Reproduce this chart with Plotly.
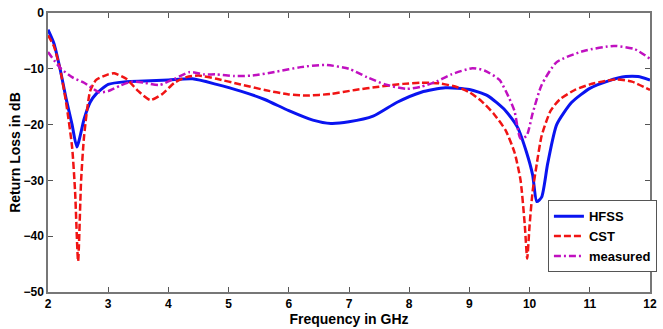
import plotly.graph_objects as go

hfss_x = [2, 2.1, 2.2, 2.3, 2.4, 2.48, 2.6, 2.7, 2.8, 3.0, 3.3, 3.6, 4.0, 4.4, 4.8, 5.2, 5.6, 6.0, 6.4, 6.7, 7.0, 7.4, 7.8, 8.2, 8.6, 9.0, 9.3, 9.6, 9.8, 9.95, 10.05, 10.12, 10.2, 10.3, 10.45, 10.7, 11.0, 11.3, 11.6, 11.8, 12]
hfss_y = [-3, -5.5, -10, -15.3, -20, -24, -19, -16, -14.5, -12.8, -12.3, -12.2, -12, -11.8, -12.8, -14, -15.5, -17.5, -19.2, -19.8, -19.5, -18.5, -16, -14.2, -13.4, -13.7, -14.8, -17.5, -20.5, -25, -29, -33.8, -33, -27, -20, -16, -13.5, -12.2, -11.4, -11.4, -12]

cst_x = [2, 2.1, 2.2, 2.3, 2.4, 2.45, 2.5, 2.55, 2.6, 2.7, 2.8, 3.0, 3.1, 3.3, 3.5, 3.7, 3.9, 4.1, 4.3, 4.5, 4.8, 5.2, 5.6, 6.0, 6.3, 6.7, 7.1, 7.5, 7.9, 8.2, 8.5, 8.8, 9.0, 9.2, 9.4, 9.6, 9.75, 9.85, 9.92, 9.96, 10.0, 10.05, 10.12, 10.2, 10.35, 10.5, 10.75, 11.0, 11.2, 11.45, 11.7, 12]
cst_y = [-4, -6, -10, -16, -24, -32, -44.5, -30, -22, -14, -12, -11, -10.8, -11.8, -14, -15.6, -14.5, -12.5, -11.5, -11.2, -11.8, -12.8, -13.8, -14.6, -14.8, -14.5, -13.8, -13.2, -12.7, -12.5, -12.6, -13.3, -14.2, -15.8, -18, -21, -25, -30, -38, -44, -38, -32, -27, -22, -17.5, -15.5, -13.8, -12.8, -12.3, -11.9, -12.3, -13.8]

meas_x = [2, 2.2, 2.4, 2.6, 2.85, 3.0, 3.2, 3.4, 3.6, 3.85, 4.1, 4.35, 4.6, 4.8, 5.1, 5.4, 5.8, 6.2, 6.6, 7.0, 7.3, 7.6, 7.95, 8.2, 8.45, 8.7, 9.05, 9.25, 9.5, 9.65, 9.75, 9.85, 9.95, 10.05, 10.2, 10.45, 10.9, 11.4, 11.75, 12]
meas_y = [-7, -9.8, -11.5, -12.5, -14.2, -14, -13, -12.3, -12.5, -12.9, -11.8, -10.6, -11, -11, -11.3, -11.2, -10.5, -9.7, -9.3, -10, -11.5, -12.8, -13.6, -13.2, -12.3, -11, -9.9, -10.3, -12, -15, -17.6, -22.5, -22, -18, -12.9, -8.8, -6.8, -5.9, -6.5, -8.2]

x_ticks = [2, 3, 4, 5, 6, 7, 8, 9, 10, 11, 12]
y_ticks = [0, -10, -20, -30, -40, -50]

FONT = "Liberation Sans, Arial, sans-serif"

fig = go.Figure()
fig.add_trace(go.Scatter(x=hfss_x, y=hfss_y, name="HFSS", mode="lines",
                         line=dict(color="#0a14f0", width=3, shape="spline", smoothing=0.6)))
fig.add_trace(go.Scatter(x=cst_x, y=cst_y, name="CST", mode="lines",
                         line=dict(color="#f01414", width=2.5, dash="7px,3px", shape="spline", smoothing=0.6)))
fig.add_trace(go.Scatter(x=meas_x, y=meas_y, name="measured", mode="lines",
                         line=dict(color="#c010c0", width=2.5, dash="7px,3px,2px,3px", shape="spline", smoothing=0.6)))

fig.update_layout(
    width=663, height=329,
    margin=dict(l=48, r=6, t=10, b=35),
    paper_bgcolor="white", plot_bgcolor="white",
    font=dict(family=FONT, size=12, color="black", weight="bold"),
    showlegend=True,
    legend=dict(x=1.0115, y=0.071, xanchor="right", yanchor="bottom",
                bgcolor="white", bordercolor="#555555", borderwidth=1,
                font=dict(family=FONT, size=13, color="black", weight="bold"),
                tracegroupgap=0, itemwidth=30),
)
fig.update_xaxes(range=[2, 12], tickvals=x_ticks, ticks="inside", ticklen=5,
                 tickcolor="#555555", showline=True, linecolor="#777777", linewidth=1.5,
                 mirror="ticks", showgrid=False, zeroline=False,
                 title=dict(text="Frequency in GHz", standoff=2,
                            font=dict(family=FONT, size=14, weight="bold")))
fig.update_yaxes(range=[-50, 0], tickvals=y_ticks, ticks="inside", ticklen=5,
                 tickcolor="#555555", showline=True, linecolor="#777777", linewidth=1.5,
                 mirror="ticks", showgrid=False, zeroline=False,
                 title=dict(text="Return Loss in dB", standoff=0,
                            font=dict(family=FONT, size=14, weight="bold")))

fig.write_html("out.html")
